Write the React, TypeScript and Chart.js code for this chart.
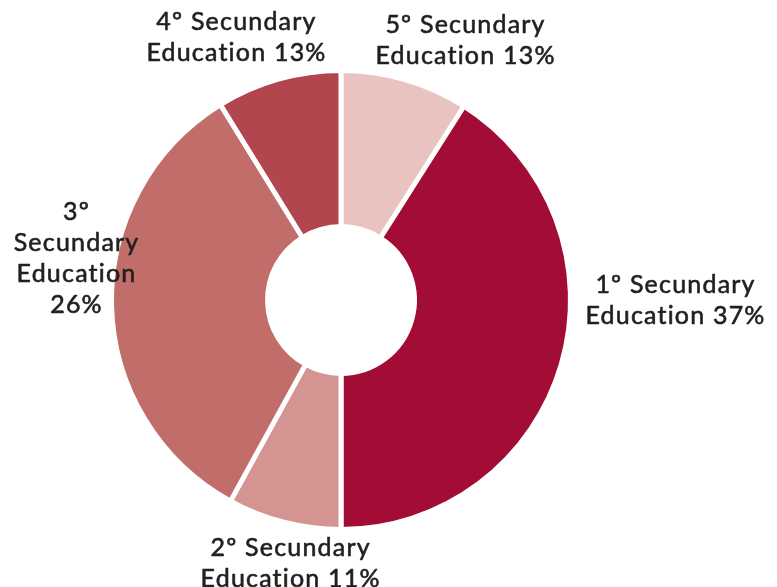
import React, { useEffect, useRef } from "react";
import { Chart, registerables } from "chart.js";

Chart.register(...registerables);

// ---- data ----
const grades = ["5º", "1º", "2º", "3º", "4º"];
const categories = grades.map((g) => `${g} Secundary Education`);
const sliceShares = [9.0, 41.0, 8.0, 33.2, 8.8];
const percentLabels = ["13%", "37%", "11%", "26%", "13%"];
const sliceColors = ["#e8c3bf", "#a20c35", "#d49491", "#c16d69", "#b1464e"];

// ---- label layout (relative to chart centre, in units of the outer radius) ----
const labelLayout = [
  { dx: 0.54, dy: -1.133, wrap: 200 },
  { dx: 1.455, dy: 0.004, wrap: 200 },
  { dx: -0.222, dy: 1.146, wrap: 200 },
  { dx: -1.155, dy: -0.179, wrap: 140 },
  { dx: -0.458, dy: -1.144, wrap: 200 },
];

const FONT = "400 25px Lato";
const LETTER_SPACING = 1.2;
const LINE_H = 31;

function wrapText(ctx: CanvasRenderingContext2D, text: string, maxW: number): string[] {
  const words = text.split(" ");
  const lines: string[] = [];
  let cur = "";
  for (const w of words) {
    const test = cur ? cur + " " + w : w;
    if (cur && ctx.measureText(test).width > maxW) {
      lines.push(cur);
      cur = w;
    } else {
      cur = test;
    }
  }
  if (cur) lines.push(cur);
  return lines;
}

const outsideLabels = {
  id: "outsideLabels",
  afterDraw(chart: any) {
    const ctx: CanvasRenderingContext2D = chart.ctx;
    const meta = chart.getDatasetMeta(0);
    ctx.save();
    ctx.font = FONT;
    (ctx as any).letterSpacing = LETTER_SPACING + "px";
    ctx.fillStyle = "#231f20";
    ctx.strokeStyle = "#231f20";
    ctx.lineWidth = 0.6;
    ctx.lineJoin = "round";
    ctx.textAlign = "left";
    ctx.textBaseline = "middle";
    meta.data.forEach((arc: any, i: number) => {
      const { x, y, outerRadius } = arc.getProps(["x", "y", "outerRadius"], true);
      const lay = labelLayout[i];
      const cx = x + lay.dx * outerRadius;
      const cy = y + lay.dy * outerRadius;
      const text = `${chart.data.labels[i]} ${percentLabels[i]}`;
      const lines = wrapText(ctx, text, lay.wrap);
      const top = cy - ((lines.length - 1) * LINE_H) / 2;
      lines.forEach((ln, k) => {
        const w = ctx.measureText(ln).width - LETTER_SPACING;
        ctx.fillText(ln, cx - w / 2, top + k * LINE_H);
        ctx.strokeText(ln, cx - w / 2, top + k * LINE_H);
      });
    });
    ctx.restore();
  },
};

export default function App() {
  const ref = useRef<HTMLCanvasElement | null>(null);
  useEffect(() => {
    document.body.style.margin = "0";
    const chart = new Chart(ref.current as HTMLCanvasElement, {
      type: "doughnut",
      data: {
        labels: categories,
        datasets: [
          {
            data: sliceShares,
            backgroundColor: sliceColors,
            borderColor: "#ffffff",
            borderWidth: 5,
            hoverOffset: 0,
          },
        ],
      },
      options: {
        animation: false,
        responsive: false,
        maintainAspectRatio: false,
        radius: 229.5,
        cutout: "32%",
        layout: { padding: { left: 0, right: 95, top: 71, bottom: 58 } },
        plugins: {
          legend: { display: false },
          tooltip: { enabled: false },
        },
      } as any,
      plugins: [outsideLabels],
    });
    return () => chart.destroy();
  }, []);
  return (
    <div style={{ position: "fixed", left: 0, top: 0, width: 777, height: 587, background: "#fff" }}>
      <canvas ref={ref} width={777} height={587} style={{ width: 777, height: 587, display: "block" }} />
    </div>
  );
}
